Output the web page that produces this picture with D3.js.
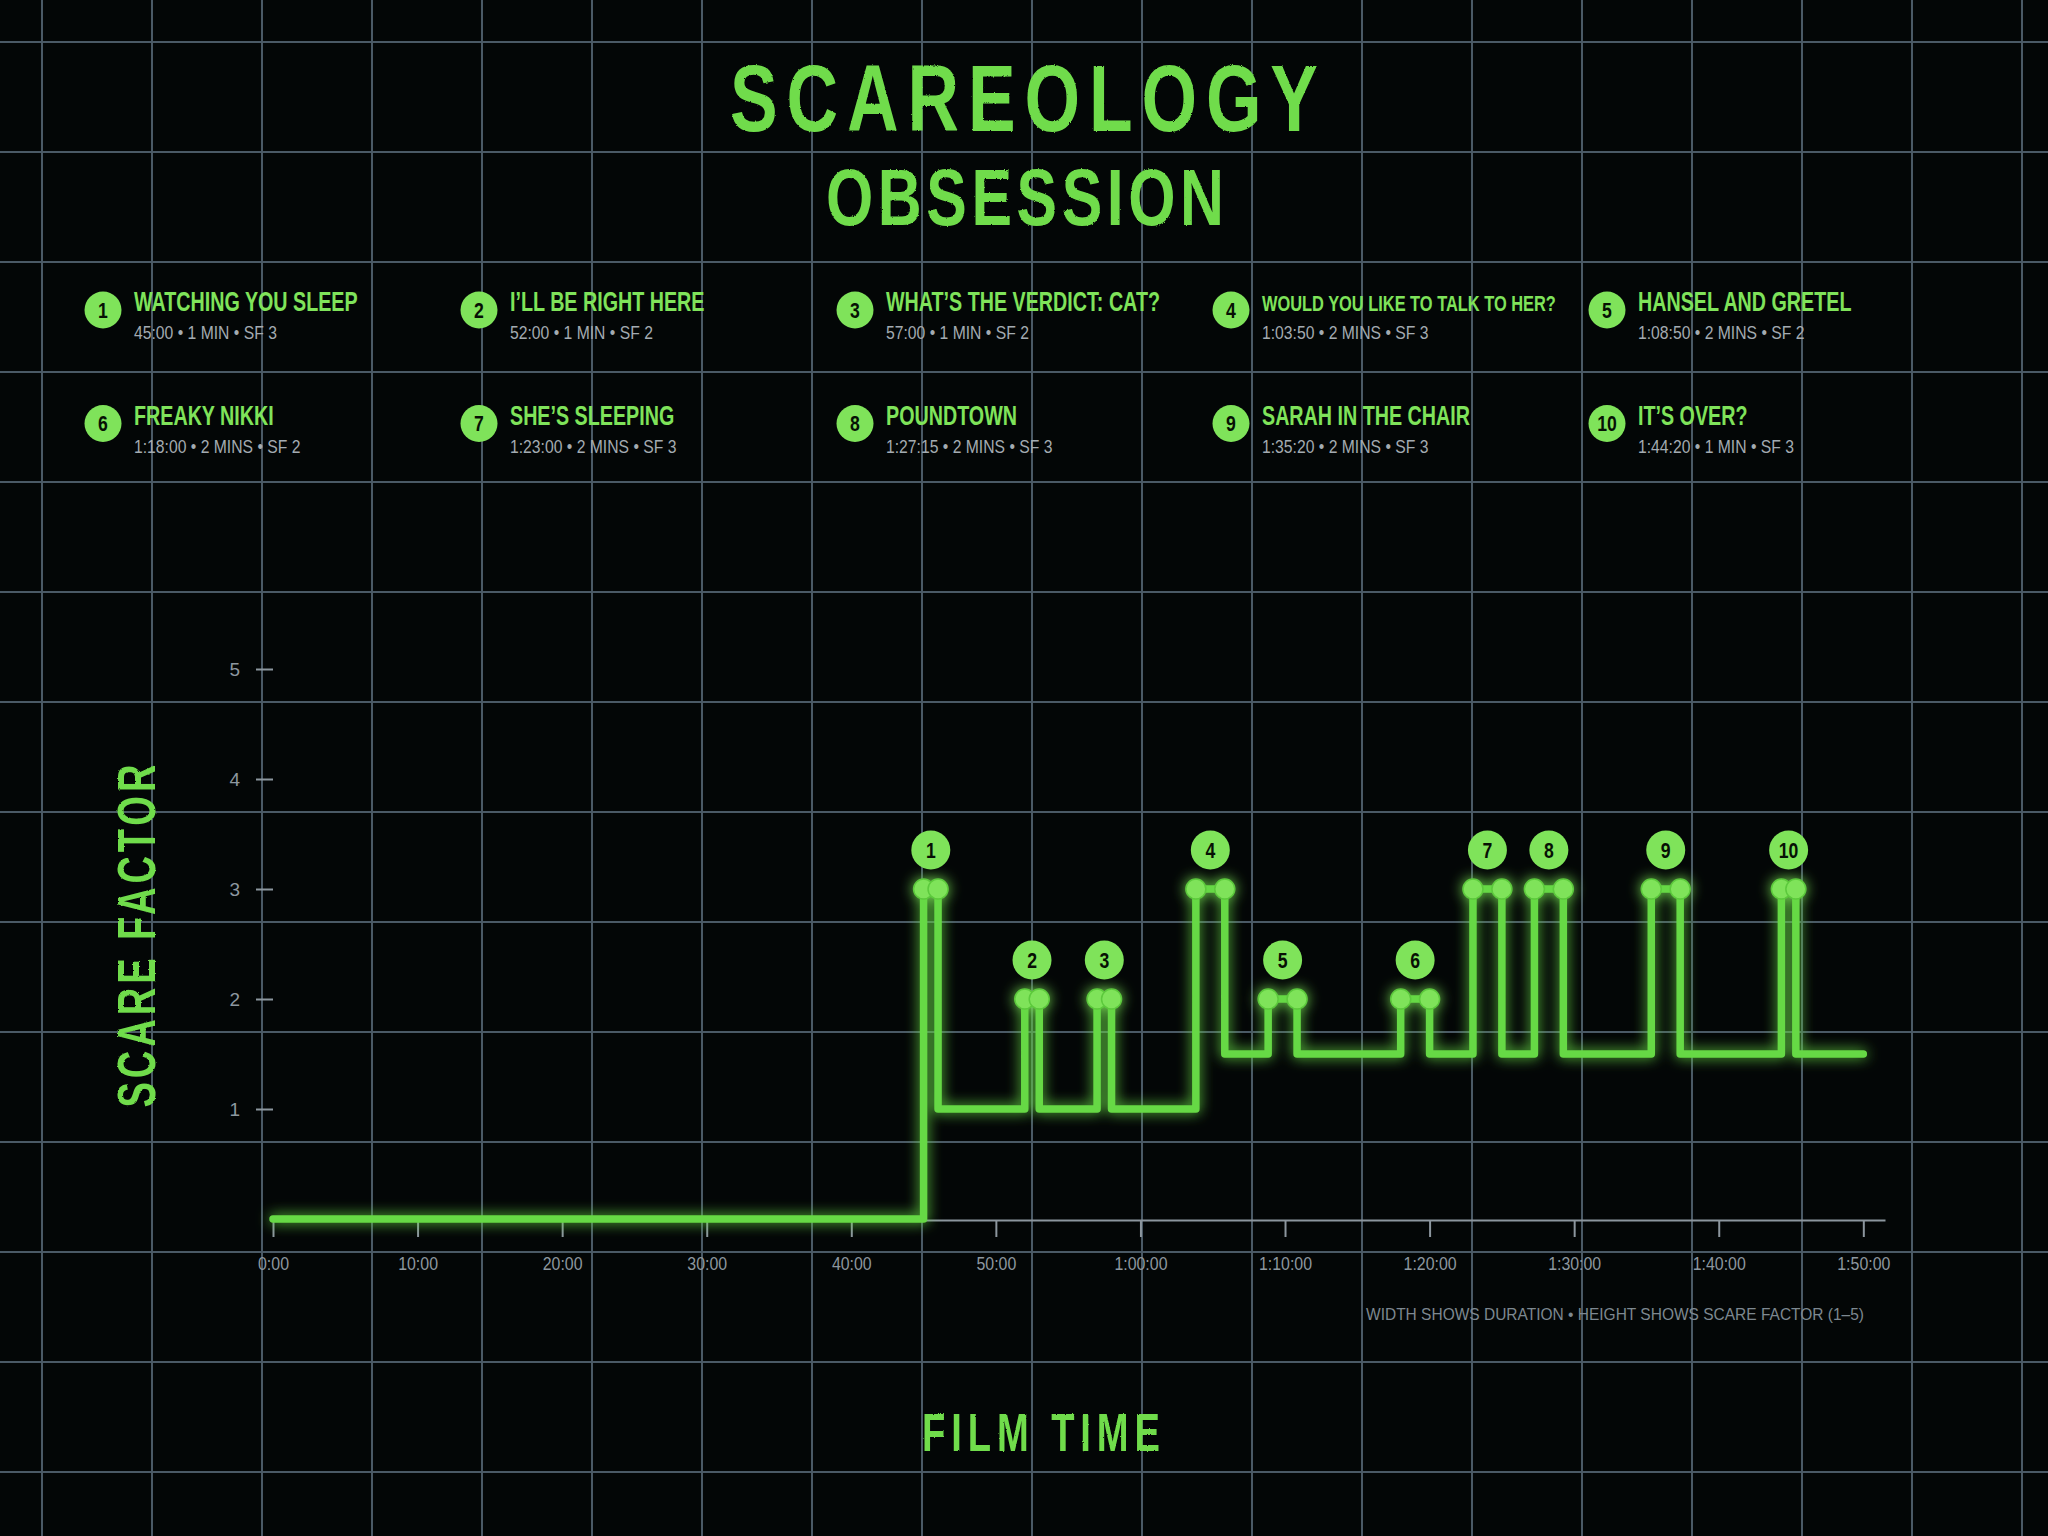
<!DOCTYPE html>
<html>
<head>
<meta charset="utf-8">
<script src="https://cdn.jsdelivr.net/npm/d3@7"></script>
<style>
  html, body { margin: 0; padding: 0; background: #030606; }
  svg { display: block; }
</style>
</head>
<body>
<svg id="chart"></svg>
<script>
// scenes
const sceneNames = [
  "WATCHING YOU SLEEP", "I’LL BE RIGHT HERE", "WHAT’S THE VERDICT: CAT?",
  "WOULD YOU LIKE TO TALK TO HER?", "HANSEL AND GRETEL", "FREAKY NIKKI",
  "SHE’S SLEEPING", "POUNDTOWN", "SARAH IN THE CHAIR", "IT’S OVER?"
];
const sceneStarts = ["45:00", "52:00", "57:00", "1:03:50", "1:08:50", "1:18:00", "1:23:00", "1:27:15", "1:35:20", "1:44:20"];
const sceneMinutes = [1, 1, 1, 2, 2, 2, 2, 2, 2, 1];
const scareFactors = [3, 2, 2, 3, 2, 2, 3, 3, 3, 3];
// level of the line before scene 1, between scenes, and after the last one
const restLevels = [0, 1, 1, 1, 1.5, 1.5, 1.5, 1.5, 1.5, 1.5, 1.5];
const filmEnd = 110;

const xTicks = [0, 10, 20, 30, 40, 50, 60, 70, 80, 90, 100, 110];
const xTickLabels = ["0:00", "10:00", "20:00", "30:00", "40:00", "50:00", "1:00:00", "1:10:00", "1:20:00", "1:30:00", "1:40:00", "1:50:00"];
const yTicks = [1, 2, 3, 4, 5];

const W = 2048, H = 1536;
const green = "#6fdc4b";
const lightGreen = "#7fe35a";
const grey = "#8d979f";
const sans = "'Liberation Sans', Arial, sans-serif";

// "1:03:50" -> minutes
const toMin = s => s.split(":").map(Number).reduce((a, v) => a * 60 + v, 0) / 60;

const scenes = sceneNames.map((name, i) => ({
  n: i + 1,
  name,
  label: sceneStarts[i],
  start: toMin(sceneStarts[i]),
  end: toMin(sceneStarts[i]) + sceneMinutes[i],
  mins: sceneMinutes[i],
  sf: scareFactors[i]
}));

const svg = d3.select("#chart")
  .attr("width", W).attr("height", H)
  .attr("viewBox", [0, 0, W, H]);

const defs = svg.append("defs");
const glow = defs.append("filter").attr("id", "glow")
  .attr("x", "-20%").attr("y", "-20%").attr("width", "140%").attr("height", "140%");
glow.append("feGaussianBlur").attr("in", "SourceGraphic").attr("stdDeviation", 7).attr("result", "blur");
const gm = glow.append("feMerge");
gm.append("feMergeNode").attr("in", "blur");
gm.append("feMergeNode").attr("in", "SourceGraphic");

// rough edges for the big titles
const rough = defs.append("filter").attr("id", "rough");
rough.append("feTurbulence").attr("type", "fractalNoise").attr("baseFrequency", 0.9).attr("numOctaves", 2).attr("result", "noise");
rough.append("feDisplacementMap").attr("in", "SourceGraphic").attr("in2", "noise").attr("scale", 2.5);

svg.append("rect").attr("width", W).attr("height", H).attr("fill", "#030606");

// background grid
const grid = svg.append("g").attr("stroke", "#4a5965").attr("stroke-width", 2);
grid.selectAll("line.v").data(d3.range(42, W, 110)).join("line")
  .attr("class", "v").attr("x1", d => d).attr("x2", d => d).attr("y1", 0).attr("y2", H);
grid.selectAll("line.h").data(d3.range(42, H, 110)).join("line")
  .attr("class", "h").attr("y1", d => d).attr("y2", d => d).attr("x1", 0).attr("x2", W);

// titles: narrow glyphs, spaced out to the given width
const bigTitle = (txt, x, y, size, len, sx, rot) => {
  svg.append("text")
    .attr("transform", `translate(${x},${y})${rot ? " rotate(-90)" : ""} scale(${sx},1)`)
    .attr("text-anchor", "middle")
    .attr("fill", green)
    .attr("font-family", sans)
    .attr("font-weight", "bold")
    .attr("font-size", size)
    .attr("textLength", len / sx)
    .attr("lengthAdjust", "spacing")
    .attr("filter", "url(#rough)")
    .text(txt);
};
bigTitle("SCAREOLOGY", 1024, 131, 94, 588, 0.76);
bigTitle("OBSESSION", 1025, 225, 80, 398, 0.76);
bigTitle("FILM TIME", 1041, 1451, 53, 238, 0.72);
bigTitle("SCARE FACTOR", 155, 936, 53, 343, 0.72, true);

// legend
const legend = svg.append("g");
const item = legend.selectAll("g.item").data(scenes).join("g")
  .attr("class", "item")
  .attr("transform", (d, i) => `translate(${103 + (i % 5) * 376},${310 + Math.floor(i / 5) * 113.5})`);
item.append("circle").attr("r", 18.5).attr("fill", lightGreen);
item.append("text")
  .attr("transform", "scale(0.8,1)")
  .attr("text-anchor", "middle").attr("dy", "0.36em")
  .attr("font-family", sans).attr("font-weight", "bold").attr("font-size", 22)
  .attr("fill", "#071104")
  .text(d => d.n);
item.append("text")
  .attr("transform", "translate(31,1) scale(0.73,1)")
  .attr("font-family", sans).attr("font-weight", "bold").attr("font-size", 27)
  .attr("fill", lightGreen)
  .text(d => d.name)
  .each(function () {
    // shrink the long ones to fit the column
    const maxW = 294;
    const w = this.getComputedTextLength() * 0.73;
    if (w > maxW) d3.select(this).attr("font-size", 27 * maxW / w);
  });
item.append("text")
  .attr("transform", "translate(31,29) scale(0.85,1)")
  .attr("font-family", sans).attr("font-size", 18.5)
  .attr("fill", "#a3abb1")
  .text(d => `${d.label} • ${d.mins} ${d.mins > 1 ? "MINS" : "MIN"} • SF ${d.sf}`);

// scales
const x = d3.scaleLinear([0, 111.5], [273, 1885]);
const y = d3.scaleLinear([0, 5], [1219, 669]);

// axes
const gx = svg.append("g")
  .attr("transform", `translate(0,${y(0) + 1})`)
  .call(d3.axisBottom(x)
    .tickValues(xTicks)
    .tickFormat((d, i) => xTickLabels[i])
    .tickSize(17).tickSizeOuter(0).tickPadding(20));
gx.select(".domain").attr("stroke", "#8c969e").attr("stroke-width", 2);
gx.selectAll(".tick line").attr("stroke", "#8c969e").attr("stroke-width", 2);
gx.selectAll(".tick text")
  .attr("transform", "scale(0.86,1)")
  .attr("fill", grey).attr("font-family", sans).attr("font-size", 18.5);

const gy = svg.append("g")
  .attr("transform", `translate(273,0)`)
  .call(d3.axisLeft(y).tickValues(yTicks).tickFormat(d3.format("d")).tickSize(17).tickPadding(16));
gy.select(".domain").remove();
gy.selectAll(".tick line").attr("stroke", "#8c969e").attr("stroke-width", 2);
gy.selectAll(".tick text")
  .attr("fill", grey).attr("font-family", sans).attr("font-size", 19);

svg.append("text")
  .attr("x", 1864).attr("y", 1320)
  .attr("text-anchor", "end")
  .attr("fill", "#7d8890")
  .attr("font-family", sans).attr("font-size", 16.5)
  .attr("textLength", 498).attr("lengthAdjust", "spacingAndGlyphs")
  .text("WIDTH SHOWS DURATION • HEIGHT SHOWS SCARE FACTOR (1–5)");

// step line
const pts = [{ t: 0, v: restLevels[0] }];
scenes.forEach((s, i) => {
  pts.push({ t: s.start, v: restLevels[i] });
  pts.push({ t: s.start, v: s.sf });
  pts.push({ t: s.end, v: s.sf });
  pts.push({ t: s.end, v: restLevels[i + 1] });
});
pts.push({ t: filmEnd, v: restLevels[restLevels.length - 1] });

const line = d3.line().x(d => x(d.t)).y(d => y(d.v));

const plot = svg.append("g").attr("filter", "url(#glow)");
plot.append("path")
  .datum(pts)
  .attr("d", line)
  .attr("fill", "none")
  .attr("stroke", "#66d944")
  .attr("stroke-width", 7.5)
  .attr("stroke-linejoin", "round")
  .attr("stroke-linecap", "round");

// dumbbell ends
const ends = scenes.flatMap(s => [{ t: s.start, v: s.sf }, { t: s.end, v: s.sf }]);
plot.selectAll("circle.end").data(ends).join("circle")
  .attr("class", "end")
  .attr("cx", d => x(d.t)).attr("cy", d => y(d.v))
  .attr("r", 10)
  .attr("fill", lightGreen)
  .attr("stroke", "#5cc93c").attr("stroke-width", 1.5);

// numbered badges
const badge = svg.append("g").selectAll("g").data(scenes).join("g")
  .attr("transform", d => `translate(${x((d.start + d.end) / 2)},${y(d.sf) - 39})`);
badge.append("circle").attr("r", 19.5).attr("fill", lightGreen);
badge.append("text")
  .attr("transform", "scale(0.8,1)")
  .attr("text-anchor", "middle").attr("dy", "0.36em")
  .attr("font-family", sans).attr("font-weight", "bold").attr("font-size", 22)
  .attr("fill", "#071104")
  .text(d => d.n);
</script>
</body>
</html>
